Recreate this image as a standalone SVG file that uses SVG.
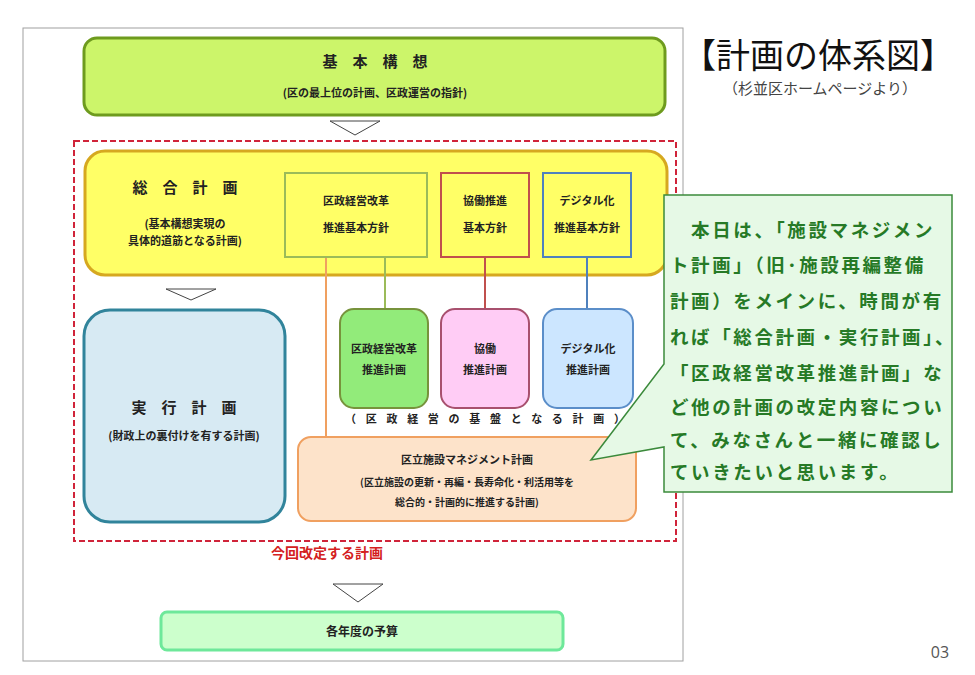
<svg xmlns="http://www.w3.org/2000/svg" width="975" height="675" viewBox="0 0 975 675">
<style>
text{font-family:"Noto Sans CJK JP","Noto Sans CJK SC",sans-serif;text-anchor:middle;fill:#222;}
.b{font-weight:bold;}
.s{font-size:11px;font-weight:bold;}
.h{font-size:15px;font-weight:bold;}
.tri{fill:#fff;stroke:#444;stroke-width:1;}
.co{font-size:18.5px;font-weight:bold;fill:#267a26;text-anchor:start;letter-spacing:2.6px;}
</style>
<rect width="975" height="675" fill="#fff"/>
<rect x="23" y="28" width="660" height="633" fill="none" stroke="#a0a0a0" stroke-width="1"/>

<g id="kihon-koso">
<rect x="84" y="38" width="581" height="77" rx="13" fill="#ccf56a" stroke="#6e9b1e" stroke-width="3"/>
<text class="h" x="375" y="67">基　本　構　想</text>
<text class="s" x="375" y="97">(区の最上位の計画、区政運営の指針)</text>
</g>

<g id="arrows">
<polygon class="tri" points="330,121 380,121 355,135"/>
<polygon class="tri" points="166,289 216,289 191,300"/>
<polygon class="tri" points="333,584 383,584 358,602"/>
</g>

<g id="kaitei-frame">
<rect x="74" y="141" width="602" height="400" fill="none" stroke="#d0243a" stroke-width="2" stroke-dasharray="6,3"/>
<text x="327" y="558" style="font-size:14px;font-weight:bold;fill:#d42020;">今回改定する計画</text>
</g>

<g id="sogo-keikaku">
<rect x="85" y="151" width="582" height="124" rx="20" fill="#ffff66" stroke="#d6a820" stroke-width="3"/>
<text class="h" x="185" y="193">総　合　計　画</text>
<text class="s" x="185" y="228">(基本構想実現の</text>
<text class="s" x="185" y="245">具体的道筋となる計画)</text>
</g>

<g id="kusei-hoshin">
<rect x="285" y="173" width="142" height="84" fill="#ffff66" stroke="#9bbb59" stroke-width="2"/>
<text class="s" x="356" y="205">区政経営改革</text>
<text class="s" x="356" y="232">推進基本方針</text>
</g>
<g id="kyodo-hoshin">
<rect x="441" y="173" width="88" height="84" fill="#ffff66" stroke="#c0504d" stroke-width="2"/>
<text class="s" x="485" y="205">協働推進</text>
<text class="s" x="485" y="232">基本方針</text>
</g>
<g id="digital-hoshin">
<rect x="543" y="173" width="88" height="84" fill="#ffff66" stroke="#4f81bd" stroke-width="2"/>
<text class="s" x="587" y="205">デジタル化</text>
<text class="s" x="587" y="232">推進基本方針</text>
</g>

<g id="connectors" fill="none" stroke-width="2">
<line x1="326" y1="258" x2="326" y2="438" stroke="#f0a060"/>
<line x1="385" y1="258" x2="385" y2="309" stroke="#9bbb59"/>
<line x1="485" y1="258" x2="485" y2="309" stroke="#c0504d"/>
<line x1="587" y1="258" x2="587" y2="309" stroke="#4f81bd"/>
</g>

<g id="jikko-keikaku">
<rect x="84" y="310" width="201" height="212" rx="26" fill="#d7eaf3" stroke="#31849b" stroke-width="3"/>
<text class="h" x="184" y="413">実　行　計　画</text>
<text class="s" x="184" y="440">(財政上の裏付けを有する計画)</text>
</g>

<g id="kusei-keikaku">
<rect x="340" y="309" width="88" height="99" rx="14" fill="#92eb7a" stroke="#77933c" stroke-width="2"/>
<text class="s" x="384" y="353">区政経営改革</text>
<text class="s" x="384" y="374">推進計画</text>
</g>
<g id="kyodo-keikaku">
<rect x="441" y="309" width="88" height="99" rx="14" fill="#ffccf5" stroke="#a8506e" stroke-width="2"/>
<text class="s" x="485" y="353">協働</text>
<text class="s" x="485" y="374">推進計画</text>
</g>
<g id="digital-keikaku">
<rect x="543" y="309" width="90" height="99" rx="14" fill="#cce6ff" stroke="#5b8ec9" stroke-width="2"/>
<text class="s" x="588" y="353">デジタル化</text>
<text class="s" x="588" y="374">推進計画</text>
</g>
<text class="s" x="485" y="423" textLength="280" lengthAdjust="spacing">（区政経営の基盤となる計画）</text>

<g id="shisetsu-keikaku">
<rect x="298" y="437" width="338" height="84" rx="13" fill="#fde3ca" stroke="#f0a060" stroke-width="2"/>
<text class="s" x="467" y="464">区立施設マネジメント計画</text>
<text class="s" x="467" y="486" style="font-size:10px">(区立施設の更新・再編・長寿命化・利活用等を</text>
<text class="s" x="467" y="506" style="font-size:10px">総合的・計画的に推進する計画)</text>
</g>

<g id="yosan">
<rect x="161" y="612" width="402" height="38" rx="6" fill="#ccffcc" stroke="#6ee89a" stroke-width="3"/>
<text class="s" x="362" y="636" style="font-size:12px">各年度の予算</text>
</g>

<g id="title">
<text x="818" y="68" style="font-size:34px;fill:#111;">【計画の体系図】</text>
<text x="820" y="94" style="font-size:15px;fill:#444;">（杉並区ホームページより）</text>
</g>

<g id="callout">
<path d="M664,195 H952 V492 H664 V447 L591,460 L664,364 Z" fill="#e6f9e6" stroke="#3b8a3b" stroke-width="1.5"/>
<text class="co" x="670" y="237">　本日は、「施設マネジメン</text>
<text class="co" x="670" y="272">ト計画」（旧･施設再編整備</text>
<text class="co" x="670" y="308">計画）をメインに、時間が有</text>
<text class="co" x="670" y="344">れば「総合計画・実行計画」、</text>
<text class="co" x="670" y="380">「区政経営改革推進計画」な</text>
<text class="co" x="670" y="414">ど他の計画の改定内容につい</text>
<text class="co" x="670" y="447">て、みなさんと一緒に確認し</text>
<text class="co" x="670" y="479">ていきたいと思います。</text>
</g>

<text x="940" y="658" style="font-size:16px;fill:#555;font-family:'Open Sans',sans-serif;">03</text>
</svg>
